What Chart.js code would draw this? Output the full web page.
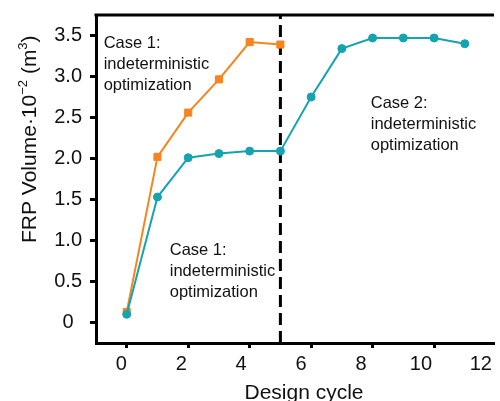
<!DOCTYPE html>
<html lang="en">
<head>
    <meta charset="UTF-8">
    <title>FRP Volume vs Design cycle</title>
    <script src="https://cdn.jsdelivr.net/npm/chart.js"></script>
    <style>
        body { margin: 0; background: #fff; }
        canvas { display: block; }
    </style>
</head>
<body>
    <canvas id="chart" width="500" height="401"></canvas>
    <script>
        // values
        const cycles       = [0, 1, 2, 3, 4, 5, 6, 7, 8, 9, 10, 11];
        const case2Volume  = [0.10, 1.53, 2.01, 2.06, 2.09, 2.09, 2.75, 3.34, 3.47, 3.47, 3.47, 3.40];
        const case1Cycles  = [0, 1, 2, 3, 4, 5];
        const case1Volume  = [0.13, 2.02, 2.56, 2.965, 3.42, 3.39];
        const xTickValues  = [0, 2, 4, 6, 8, 10, 12];
        const yTickValues  = [0, 0.5, 1, 1.5, 2, 2.5, 3, 3.5];
        const switchCycle  = 5;
        const notes = [
            {x: -0.75, y: 3.345, lines: ['Case 1:', 'indeterministic', 'optimization']},
            {x: 1.40,  y: 0.824, lines: ['Case 1:', 'indeterministic', 'optimization']},
            {x: 7.94,  y: 2.615, lines: ['Case 2:', 'indeterministic', 'optimization']}
        ];

        const FONT = '"Liberation Sans", Arial, sans-serif';
        const teal = '#15a3af';
        const orange = '#f7841d';

        const toXY = (xs, ys) => xs.map((v, i) => ({x: v, y: ys[i]}));
        const setTicks = vals => scale => { scale.ticks = vals.map(v => ({value: v})); };
        const noPad = scale => { scale.paddingLeft = 0; scale.paddingRight = 0; scale.paddingTop = 0; scale.paddingBottom = 0; };

        const decor = {
            id: 'decor',
            afterDraw(chart) {
                const {ctx, chartArea: a, scales: {x, y}} = chart;
                ctx.save();
                // top frame line
                ctx.strokeStyle = '#000';
                ctx.lineWidth = 3;
                ctx.beginPath();
                ctx.moveTo(a.left - 1.5, a.top);
                ctx.lineTo(a.right, a.top);
                ctx.stroke();

                // annotations
                ctx.fillStyle = '#111';
                ctx.font = '16.5px ' + FONT;
                ctx.textAlign = 'left';
                ctx.textBaseline = 'alphabetic';
                notes.forEach(n => n.lines.forEach((t, i) =>
                    ctx.fillText(t, x.getPixelForValue(n.x), y.getPixelForValue(n.y) + i * 21)));

                // x title
                ctx.font = '21px ' + FONT;
                ctx.textAlign = 'center';
                ctx.fillText('Design cycle', 304, 399);

                // y title with superscripts
                ctx.translate(36, 243);
                ctx.rotate(-Math.PI / 2);
                ctx.textAlign = 'left';
                let cx = 0;
                const part = (t, size, dy) => {
                    ctx.font = size + 'px ' + FONT;
                    ctx.fillText(t, cx, dy);
                    cx += ctx.measureText(t).width;
                };
                part('FRP Volume\u00b710', 21, 0);
                part('\u22122', 13, -9);
                part(' (m', 21, 0);
                part('3', 13, -9);
                part(')', 21, 0);
                ctx.restore();
            }
        };

        new Chart(document.getElementById('chart'), {
            type: 'line',
            data: {
                datasets: [
                    {label: 'Case 2', data: toXY(cycles, case2Volume),
                     borderColor: teal, backgroundColor: teal, borderWidth: 2,
                     pointStyle: 'circle', pointRadius: 4, pointBorderWidth: 1},
                    {label: 'Case 1', data: toXY(case1Cycles, case1Volume),
                     borderColor: orange, backgroundColor: orange, borderWidth: 2,
                     pointStyle: 'rect', pointRadius: 5, pointBorderWidth: 1},
                    {label: 'switch', data: [{x: switchCycle, y: -0.25}, {x: switchCycle, y: 3.75}],
                     borderColor: '#000', borderWidth: 3, borderDash: [12, 6], pointRadius: 0}
                ]
            },
            options: {
                responsive: false,
                animation: false,
                layout: {padding: {top: 15, left: 0, right: 0, bottom: 0}},
                plugins: {legend: {display: false}, tooltip: {enabled: false}},
                scales: {
                    x: {type: 'linear', position: 'bottom', min: -1, max: 11.95, weight: 0,
                        afterBuildTicks: setTicks(xTickValues.slice(0, 6)),
                        afterFit: s => { s.height = 5; noPad(s); },
                        ticks: {display: false},
                        grid: {drawOnChartArea: false, drawTicks: true, tickLength: 5, tickWidth: 3, tickColor: '#000'},
                        border: {display: true, width: 3, color: '#000'}},
                    x2: {type: 'linear', position: 'bottom', min: -0.845, max: 12.44, weight: 1,
                         afterBuildTicks: setTicks(xTickValues),
                         afterFit: s => { s.height = 53; noPad(s); },
                         ticks: {font: {family: FONT, size: 20}, color: '#111', padding: 4, maxRotation: 0,
                                 autoSkip: false},
                         grid: {display: false, drawTicks: false},
                         border: {display: false}},
                    y: {type: 'linear', min: -0.25, max: 3.75,
                        afterBuildTicks: setTicks(yTickValues),
                        afterFit: s => { s.width = 96; noPad(s); },
                        ticks: {font: {family: FONT, size: 20}, color: '#111', padding: 8, crossAlign: 'center',
                                callback: v => v === 0 ? '0' : v.toFixed(1)},
                        grid: {drawOnChartArea: false, drawTicks: true, tickLength: 6, tickWidth: 3, tickColor: '#000'},
                        border: {display: true, width: 3, color: '#000'}}
                }
            },
            plugins: [decor]
        });
    </script>
</body>
</html>
